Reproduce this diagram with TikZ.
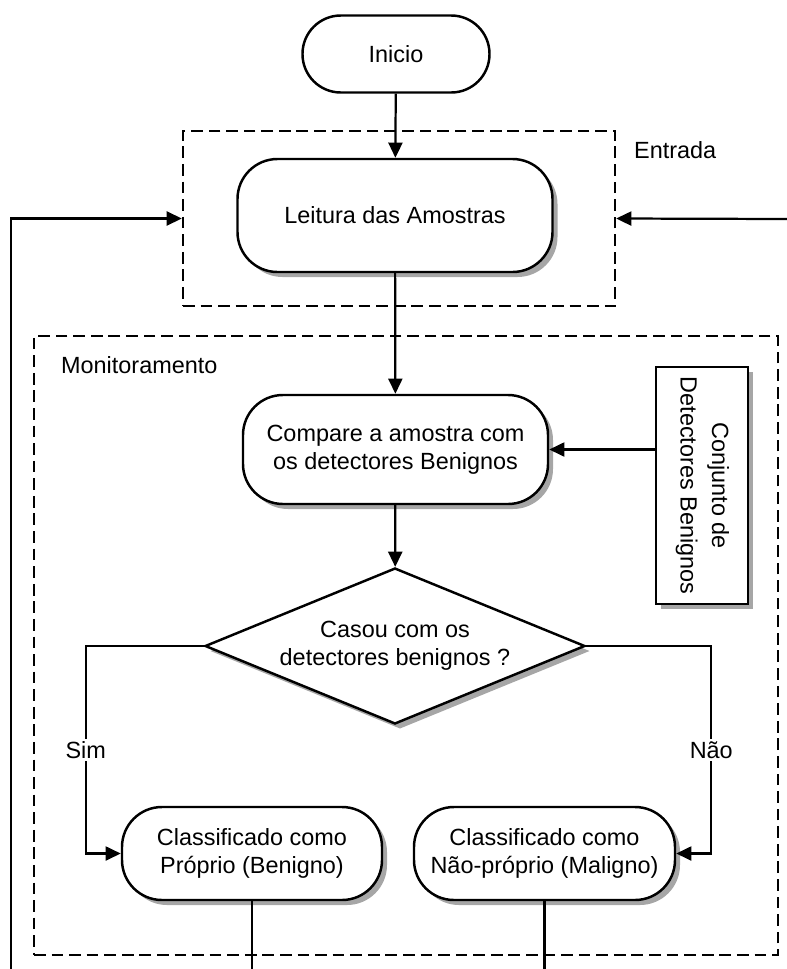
\documentclass[tikz,border=0pt]{standalone}
\usepackage{fontspec}
\setmainfont{Liberation Sans}
\usepackage{graphicx}
\usetikzlibrary{arrows.meta,shapes.geometric,shadows}

\begin{document}
\begin{tikzpicture}[x=0.03cm, y=-0.03cm,
    font=\fontsize{20}{24}\selectfont,
    sombra/.style={drop shadow={shadow xshift=0.15cm, shadow yshift=-0.15cm, fill=black!35, opacity=1}},
    etapa/.style={draw, line width=2.1pt, fill=white, rounded corners=1.2cm, align=center, sombra},
    grupo/.style={draw, line width=2pt, dash pattern=on 10pt off 5pt},
    seta/.style={line width=1.9pt, -{Triangle[length=13pt, width=12pt]}},
    linha/.style={line width=1.9pt}]
  \useasboundingbox (0,0) rectangle (787,969);

  % grupos tracejados
  \node[grupo, minimum width=12.96cm, minimum height=5.25cm] (entrada) at (399,218.5) {};
  \node[grupo, minimum width=22.32cm, minimum height=18.57cm] (monit) at (406,645.5) {};
  \node[anchor=west] (rotEntrada) at (630,150) {Entrada};
  \node[anchor=west] (rotMonit) at (57,365) {Monitoramento};

  % etapas
  \node[draw, line width=2.1pt, rounded corners=1.15cm, minimum width=5.61cm, minimum height=2.31cm]
    (inicio) at (396,54) {Inicio};
  \node[etapa, minimum width=9.45cm, minimum height=3.39cm] (leitura) at (395,215.5) {Leitura das Amostras};
  \node[etapa, minimum width=9.15cm, minimum height=3.27cm] (compara) at (395.5,449.5)
    {Compare a amostra com\\os detectores Benignos};
  \node[draw, line width=2.1pt, fill=white, sombra, minimum width=2.76cm, minimum height=7.11cm, inner sep=0pt]
    (conjunto) at (702,485.5)
    {\rotatebox{-90}{\begin{tabular}{@{}c@{}}Conjunto de\\[3pt]Detectores Benignos\end{tabular}}};
  \node[draw, shape=diamond, aspect=2.44, line width=2.1pt, fill=white, sombra, align=center,
    inner sep=1pt, minimum width=11.4cm, minimum height=4.68cm]
    (casou) at (395,646) {Casou com os\\detectores benignos ?};
  \node[etapa, minimum width=7.8cm, minimum height=2.79cm] (proprio) at (252,853.5)
    {Classificado como\\Próprio (Benigno)};
  \node[etapa, minimum width=7.83cm, minimum height=2.79cm] (maligno) at (544.5,853.5)
    {Classificado como\\Não-próprio (Maligno)};

  % pontas livres
  \coordinate (retEsq) at (11,969);
  \coordinate (retDir) at (787,219);
  \coordinate (saiProprio) at (252,969);
  \coordinate (saiMaligno) at (544.5,969);

  % ligacoes
  \draw[seta] (inicio) -- (leitura);
  \draw[seta] (leitura) -- (compara);
  \draw[seta] (compara) -- (casou);
  \draw[seta] (conjunto.west |- compara.east) -- (compara.east);
  \draw[seta] (casou.west) -- ++(-118,0) |- node[pos=0.25, fill=white, inner sep=2pt] {Sim} (proprio.west);
  \draw[seta] (casou.east) -- ++(125,0) |- node[pos=0.25, fill=white, inner sep=2pt] {Não} (maligno.east);
  \draw[linha] (proprio) -- (saiProprio);
  \draw[linha] (maligno) -- (saiMaligno);
  \draw[seta] (retEsq) |- (entrada.west);
  \draw[seta] (retDir) -- (entrada.east);
\end{tikzpicture}
\end{document}
